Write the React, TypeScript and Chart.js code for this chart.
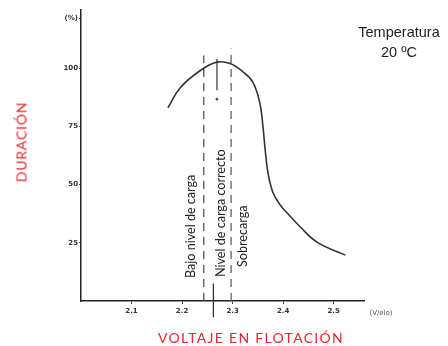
import React, { useEffect, useRef } from "react";
import { Chart, registerables } from "chart.js";

Chart.register(...registerables);

const voltage = [2.172, 2.196, 2.236, 2.269, 2.295, 2.32, 2.34, 2.354, 2.36, 2.364, 2.37, 2.38, 2.395, 2.408, 2.434, 2.467, 2.523];
const duration = [83, 91.5, 99, 102.6, 102, 98.5, 94, 85, 75, 66, 55, 46.5, 41, 37.8, 31.8, 25.3, 19.7];

const xTickValues = [2.1, 2.2, 2.3, 2.4, 2.5];
const xTickLabels = ["2.1", "2.2", "2.3", "2.4", "2.5"];
const yTickValues = [25, 50, 75, 100, 121.5];
const yTickLabels = ["25", "50", "75", "100", "(%)"];

const lowChargeV = 2.243;
const lowChargeTop = 105.5;
const overChargeV = 2.297;
const overChargeTop = 108.5;
const correctV = 2.269;
const correctMarkTop = 104;
const correctMarkBottom = 90.5;
const correctDot = 86.7;
const baseMarkV = 2.262;
const baseMarkTop = 7.5;
const baseMarkBottom = -7;

const zoneLabels = ["Bajo nivel de carga", "Nivel de carga correcto", "Sobrecarga"];
const yTitle = "DURACIÓN";
const xTitle = "VOLTAJE EN FLOTACIÓN";
const xUnit = "(V/elo)";
const noteLines = ["Temperatura", "20 ºC"];

export default function App() {
  const ref = useRef<HTMLCanvasElement | null>(null);

  useEffect(() => {
    if (!ref.current) return;
    const labelPlugin = {
      id: "zoneLabels",
      afterDatasetsDraw(chart: any) {
        const ctx = chart.ctx;
        const xs = chart.scales.x;
        const spots = [
          { x: xs.getPixelForValue(lowChargeV) - 13, y: 278 },
          { x: xs.getPixelForValue(correctV) + 4, y: 277 },
          { x: xs.getPixelForValue(overChargeV) + 12, y: 267 },
        ];
        ctx.save();
        ctx.fillStyle = "#222";
        ctx.font = "12.6px Lato";
        ctx.textAlign = "left";
        ctx.textBaseline = "middle";
        spots.forEach((s, i) => {
          ctx.save();
          ctx.translate(s.x, s.y);
          ctx.rotate(-Math.PI / 2);
          ctx.fillText(zoneLabels[i], 0, 0);
          ctx.restore();
        });
        ctx.restore();
      },
    };

    const chart = new Chart(ref.current, {
      type: "line",
      data: {
        datasets: [
          {
            data: voltage.map((v, i) => ({ x: v, y: duration[i] })),
            borderColor: "#333",
            borderWidth: 1.6,
            pointRadius: 0,
            tension: 0.4,
            fill: false,
          },
          {
            data: [{ x: lowChargeV, y: 0 }, { x: lowChargeV, y: lowChargeTop }],
            borderColor: "#444",
            borderWidth: 1.2,
            borderDash: [8, 6],
            pointRadius: 0,
          },
          {
            data: [{ x: overChargeV, y: 0 }, { x: overChargeV, y: overChargeTop }],
            borderColor: "#555",
            borderWidth: 1.2,
            borderDash: [8, 6],
            pointRadius: 0,
          },
          {
            data: [{ x: correctV, y: correctMarkBottom }, { x: correctV, y: correctMarkTop }],
            borderColor: "#444",
            borderWidth: 1.3,
            pointRadius: 0,
          },
          {
            data: [{ x: correctV, y: correctDot }],
            borderColor: "#444",
            backgroundColor: "#444",
            pointRadius: 1,
            showLine: false,
          },
          {
            data: [{ x: baseMarkV, y: baseMarkBottom }, { x: baseMarkV, y: baseMarkTop }],
            borderColor: "#333",
            borderWidth: 1.3,
            pointRadius: 0,
            clip: false,
          },
        ],
      },
      options: {
        responsive: false,
        animation: false,
        layout: { padding: { left: 0, right: 84, top: 10, bottom: 0 } },
        plugins: { legend: { display: false }, tooltip: { enabled: false } },
        scales: {
          x: {
            type: "linear",
            min: 2.0,
            max: 2.56,
            afterFit: (s: any) => { s.height = 45; },
            afterBuildTicks: (s: any) => { s.ticks = xTickValues.map((v) => ({ value: v })); },
            ticks: {
              autoSkip: false,
              maxRotation: 0,
              padding: 3,
              color: "#333",
              font: { size: 7, family: "DejaVu Sans", weight: "bold" },
              callback: (v: any) => xTickLabels[xTickValues.indexOf(Number(v))] ?? "",
            },
            grid: { display: true, drawOnChartArea: false, tickLength: 3, color: "#444" },
            border: { display: true, color: "#222", width: 1.5 },
          },
          y: {
            type: "linear",
            min: 0,
            max: 125,
            afterFit: (s: any) => { s.width = 81; },
            afterBuildTicks: (s: any) => { s.ticks = yTickValues.map((v) => ({ value: v })); },
            ticks: {
              autoSkip: false,
              padding: 1,
              color: "#333",
              font: { size: 7, family: "DejaVu Sans", weight: "bold" },
              callback: (v: any) => yTickLabels[yTickValues.indexOf(Number(v))] ?? "",
            },
            grid: { display: true, drawOnChartArea: false, tickLength: 2, color: "#444" },
            border: { display: true, color: "#222", width: 1.5 },
          },
        },
      },
      plugins: [labelPlugin],
    } as any);
    return () => chart.destroy();
  }, []);

  const red = "#e8262b";
  return (
    <div style={{ position: "fixed", left: 0, top: 0, width: 448, height: 346, background: "#fff", overflow: "hidden" }}>
      <canvas ref={ref} width={448} height={346} style={{ position: "absolute", left: 0, top: 0, width: 448, height: 346 }} />
      <div
        style={{
          position: "absolute",
          left: 21,
          top: 142,
          transform: "translate(-50%, -50%) rotate(-90deg)",
          color: red,
          fontFamily: "Lato",
          fontSize: 14,
          whiteSpace: "nowrap",
          letterSpacing: 0.8,
        }}
      >
        {yTitle}
      </div>
      <div
        style={{
          position: "absolute",
          left: 251,
          top: 337,
          transform: "translate(-50%, -50%)",
          color: red,
          fontFamily: "Lato",
          fontSize: 14,
          whiteSpace: "nowrap",
          letterSpacing: 1.3,
        }}
      >
        {xTitle}
      </div>
      <div
        style={{
          position: "absolute",
          left: 381,
          top: 313,
          transform: "translate(-50%, -50%)",
          color: "#555",
          fontFamily: "DejaVu Sans",
          fontSize: 7,
          whiteSpace: "nowrap",
        }}
      >
        {xUnit}
      </div>
      <div
        style={{
          position: "absolute",
          left: 399,
          top: 22,
          transform: "translateX(-50%)",
          color: "#222",
          fontFamily: "Liberation Sans",
          fontSize: 14.5,
          lineHeight: "20px",
          textAlign: "center",
          whiteSpace: "nowrap",
        }}
      >
        {noteLines.map((t) => (
          <div key={t}>{t}</div>
        ))}
      </div>
    </div>
  );
}
